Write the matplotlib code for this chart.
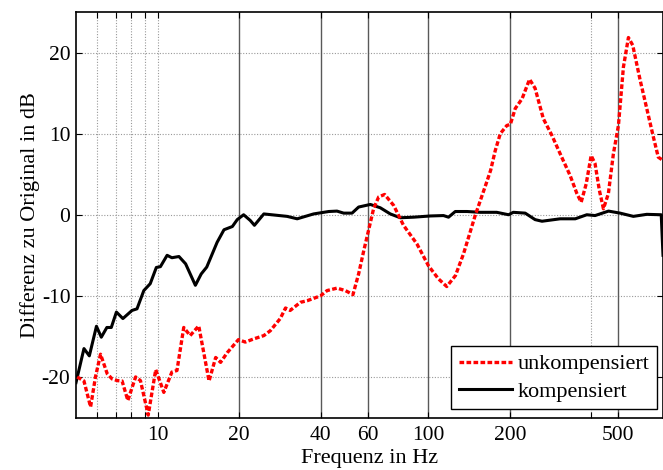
import matplotlib
matplotlib.use("Agg")
import matplotlib.pyplot as plt

# frequency response data (Hz, dB)
f_unkomp = [5.05, 5.35, 5.66, 5.9, 6.16, 6.52, 6.8, 7.1, 7.4, 7.77, 8.3, 8.65, 9.24,
            9.85, 10.55, 11.3, 11.8, 12.5, 13.2, 14.2, 15.5, 16.4, 17.1, 18.1, 19.9,
            21.1, 22.7, 24.7, 26.1, 28.4, 29.7, 30.9, 33.7, 35.7, 40, 42.3, 46, 49.4,
            52.7, 55.3, 57.8, 60.2, 62.8, 65.6, 69, 74.5, 81, 90.8, 100.2, 109, 117,
            126, 135, 149, 165, 170, 176.7, 184.5, 195, 201, 209.5, 222, 236.6, 248,
            266, 286, 311, 334, 354, 367, 383, 399.5, 413, 428.5, 443.5, 462.5, 482.6,
            503.8, 525.6, 548.5, 569, 606, 641, 678, 707, 736]
db_unkomp = [-20.0, -20.5, -23.7, -20.0, -17.2, -19.6, -20.25, -20.45, -20.5, -22.9,
             -20.0, -20.45, -24.7, -19.1, -21.9, -19.4, -19.2, -13.9, -14.9, -13.7,
             -20.5, -17.6, -18.2, -17.0, -15.4, -15.7, -15.3, -14.9, -14.3, -12.8,
             -11.5, -11.8, -10.8, -10.6, -10.0, -9.35, -9.05, -9.35, -9.85, -7.3, -4.4,
             -1.9, 0.74, 2.2, 2.5, 1.15, -1.3, -3.6, -6.3, -7.9, -8.85, -7.5, -4.8,
             -0.1, 4.2, 5.5, 7.9, 10.0, 11.0, 11.15, 13.1, 14.3, 16.7, 15.6, 11.85,
             9.8, 7.1, 4.85, 2.6, 1.55, 3.8, 7.3, 6.3, 3.0, 0.74, 2.6, 7.5, 11.0, 18.2,
             21.85, 20.9, 16.6, 13.1, 9.6, 7.1, 6.7]

f_komp = [5.0, 5.35, 5.6, 5.95, 6.2, 6.5, 6.75, 7.05, 7.45, 8.05, 8.4, 8.9, 9.4, 9.9,
          10.25, 10.85, 11.3, 12.0, 12.7, 13.8, 14.5, 15.2, 16.6, 17.6, 18.9, 19.7,
          20.8, 22.0, 22.8, 24.7, 30.1, 32.8, 37.7, 42.9, 46, 48.7, 52.3, 55.3, 61.1,
          66.5, 72.4, 78.8, 88.3, 101.7, 113.8, 118.8, 125.8, 139, 155.6, 179, 198,
          206, 228, 248, 263, 307, 349, 385, 413, 463, 511, 572, 641, 725, 736]
db_komp = [-20.7, -16.5, -17.4, -13.75, -15.1, -13.9, -13.9, -12.0, -12.8, -11.8,
           -11.6, -9.35, -8.5, -6.5, -6.4, -5.0, -5.3, -5.15, -6.05, -8.7, -7.3, -6.45,
           -3.4, -1.85, -1.45, -0.6, 0.0, -0.7, -1.3, 0.1, -0.2, -0.5, 0.1, 0.4, 0.45,
           0.2, 0.2, 0.95, 1.27, 0.86, 0.1, -0.37, -0.3, -0.15, -0.1, -0.3, 0.4, 0.4,
           0.3, 0.3, 0.0, 0.3, 0.2, -0.6, -0.8, -0.5, -0.5, 0.0, -0.1, 0.45, 0.2, -0.2,
           0.05, 0.0, -5.0]

xticks = [6, 7, 8, 9, 10, 20, 40, 60, 100, 200, 400, 500]
xticklabels = ["", "", "", "", "10", "20", "40", "60", "100", "200", "", "500"]
yticks = [-20, -10, 0, 10, 20]
dotted_x = [6, 7, 8, 9, 10, 400]
solid_x = [20, 40, 60, 100, 200, 500]

plt.rcParams['font.family'] = ['Liberation Serif', 'DejaVu Serif']
plt.rcParams['font.size'] = 16
plt.rcParams['axes.unicode_minus'] = False

fig = plt.figure(figsize=(6.63, 4.70), dpi=100)
ax = fig.add_axes([76 / 663, 52.5 / 470, 587 / 663, 405.5 / 470])

# grid lines
for y in yticks:
    ax.axhline(y, color='0.6', lw=0.8, ls=(0, (1, 1.5)), zorder=0)
for x in dotted_x:
    ax.axvline(x, color='0.6', lw=0.8, ls=(0, (1, 1.5)), zorder=0)
for x in solid_x:
    ax.axvline(x, color='0.35', lw=1.0, zorder=0)

ax.plot(f_unkomp, db_unkomp, color='red', lw=2.4, ls=(0, (1.4, 0.7)),
        label='unkompensiert', zorder=3)
ax.plot(f_komp, db_komp, color='black', lw=2.2, label='kompensiert', zorder=2)

ax.set_xscale('log')
ax.set_xlim(5, 736)
ax.set_ylim(-25, 25)
ax.set_xticks(xticks)
ax.set_xticklabels(xticklabels)
ax.minorticks_off()
ax.set_yticks(yticks)
ax.tick_params(direction='in', length=4.5, width=0.8, top=True, right=True,
               labelsize=15.5)
ax.tick_params(axis='x', pad=6)
ax.tick_params(axis='y', pad=4)
for s in ax.spines.values():
    s.set_linewidth(1.2)

ax.set_xlabel('Frequenz in Hz', fontsize=16, labelpad=3)
ax.set_ylabel('Differenz zu Original in dB', fontsize=16, labelpad=1)

leg = ax.legend(loc='lower right', bbox_to_anchor=(0.99, 0.02), borderaxespad=0,
                fancybox=False, framealpha=1, edgecolor='black', handlelength=2.4,
                handletextpad=0.25, labelspacing=0.3, fontsize=16, borderpad=0.35)
leg.get_frame().set_linewidth(1.0)

fig.savefig('out.png', dpi=100)
